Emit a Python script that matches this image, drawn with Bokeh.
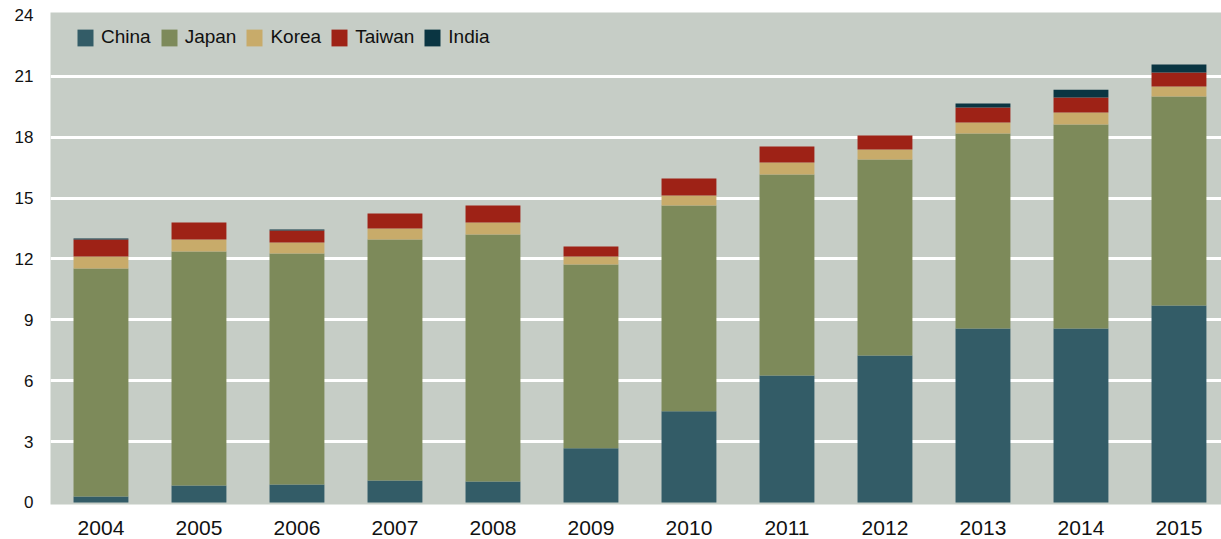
from bokeh.plotting import figure
from bokeh.models import ColumnDataSource, Range1d, FixedTicker
from bokeh.embed import file_html
from bokeh.resources import INLINE

years = ["2004", "2005", "2006", "2007", "2008", "2009", "2010", "2011", "2012", "2013", "2014", "2015"]
series = ["China", "Japan", "Korea", "Taiwan", "India"]
china = [0.30, 0.84, 0.89, 1.08, 1.03, 2.67, 4.50, 6.26, 7.24, 8.57, 8.57, 9.70]
japan = [11.23, 11.52, 11.38, 11.88, 12.17, 9.05, 10.13, 9.90, 9.66, 9.61, 10.05, 10.30]
korea = [0.59, 0.60, 0.54, 0.54, 0.59, 0.40, 0.49, 0.59, 0.49, 0.54, 0.59, 0.49]
taiwan = [0.84, 0.83, 0.59, 0.74, 0.84, 0.49, 0.84, 0.79, 0.69, 0.74, 0.74, 0.69]
india = [0.05, 0.0, 0.05, 0.0, 0.0, 0.0, 0.0, 0.0, 0.0, 0.20, 0.39, 0.40]
y_ticks = [0, 3, 6, 9, 12, 15, 18, 21, 24]

colors = ["#335c67", "#7d8a5a", "#c8ab6a", "#9e2216", "#0a3542"]
FONT = "Liberation Sans"

xs = list(range(len(years)))
source = ColumnDataSource(dict(x=xs, China=china, Japan=japan, Korea=korea, Taiwan=taiwan, India=india))

p = figure(width=1221, height=539, output_backend="svg", toolbar_location=None,
           x_range=Range1d(-0.515, 11.434), y_range=Range1d(-0.1, 24.14),
           min_border_left=50, min_border_right=0, min_border_top=12, min_border_bottom=35)

p.vbar_stack(series, x="x", width=0.56, color=colors, source=source,
             legend_label=series, line_width=0)

p.background_fill_color = "#c6cdc6"
p.border_fill_color = "white"
p.outline_line_color = None

p.xgrid.visible = False
p.ygrid.ticker = FixedTicker(ticks=y_ticks[1:-1])
p.ygrid.grid_line_color = "white"
p.ygrid.grid_line_width = 3

p.xaxis.ticker = FixedTicker(ticks=xs)
p.xaxis.major_label_overrides = {i: y for i, y in enumerate(years)}
p.yaxis.ticker = FixedTicker(ticks=y_ticks)
for ax in (p.xaxis, p.yaxis):
    ax.axis_line_color = None
    ax.major_tick_line_color = None
    ax.minor_tick_line_color = None
    ax.major_tick_out = 0
    ax.major_tick_in = 0
    ax.minor_tick_out = 0
    ax.major_label_text_font = FONT
    ax.major_label_text_color = "#111111"
p.xaxis.major_label_text_font_size = "21px"
p.xaxis.major_label_standoff = 16
p.yaxis.major_label_text_font_size = "17px"
p.yaxis.major_label_standoff = 17

lg = p.legend[0]
lg.orientation = "horizontal"
lg.location = (25, 456)
lg.padding = 0
lg.margin = 0
lg.spacing = 8
lg.glyph_width = 20
lg.glyph_height = 21
lg.label_standoff = 6
lg.background_fill_alpha = 0
lg.border_line_alpha = 0
lg.label_text_font = FONT
lg.label_text_font_size = "19px"
lg.label_text_color = "#111111"

open("out.html", "w").write(file_html(p, INLINE))
